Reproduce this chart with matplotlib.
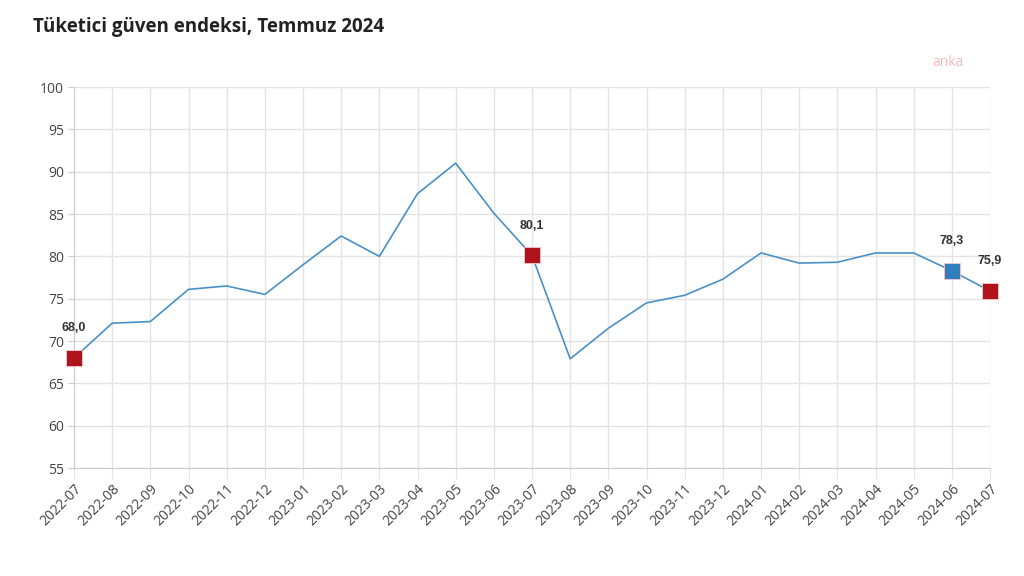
import matplotlib
matplotlib.use("Agg")
import matplotlib.pyplot as plt

plt.rcParams['font.family'] = ['Open Sans', 'DejaVu Sans']

months = ['2022-07', '2022-08', '2022-09', '2022-10', '2022-11', '2022-12',
          '2023-01', '2023-02', '2023-03', '2023-04', '2023-05', '2023-06',
          '2023-07', '2023-08', '2023-09', '2023-10', '2023-11', '2023-12',
          '2024-01', '2024-02', '2024-03', '2024-04', '2024-05', '2024-06',
          '2024-07']
values = [68.0, 72.1, 72.3, 76.1, 76.5, 75.5,
          79.0, 82.4, 80.0, 87.4, 91.0, 85.1,
          80.1, 67.9, 71.5, 74.5, 75.4, 77.3,
          80.4, 79.2, 79.3, 80.4, 80.4, 78.3,
          75.9]

# highlighted points: index -> colour
highlights = {0: '#b0141a', 12: '#b0141a', 23: '#2f7fbf', 24: '#b0141a'}

fig = plt.figure(figsize=(10.24, 5.76), dpi=100)
ax = fig.add_axes([74 / 1024, 1 - 468 / 576, 916 / 1024, 381 / 576])

x = list(range(len(months)))
ax.plot(x, values, color='#4a90c8', linewidth=1.2, zorder=3)

for i, c in highlights.items():
    ax.plot(x[i], values[i], marker='s', markersize=11, color=c,
            markeredgecolor='#f2c9cb', markeredgewidth=0.6, zorder=4, clip_on=False)
    ax.annotate(f'{values[i]:.1f}'.replace('.', ','), (x[i], values[i]),
                xytext=(0, 17), textcoords='offset points', ha='center',
                va='bottom', fontsize=9, fontweight='bold', color='#333333',
                family=['Liberation Sans', 'DejaVu Sans'])

ax.set_xlim(0, len(months) - 1)
ax.set_ylim(55, 100)
ax.set_yticks(range(55, 101, 5))
ax.set_xticks(x)
ax.set_xticklabels(months, rotation=45, ha='right', rotation_mode='anchor')

ax.grid(True, color='#e3e3e3', linewidth=1)
ax.set_axisbelow(True)
for s in ['top', 'right']:
    ax.spines[s].set_visible(False)
for s in ['left', 'bottom']:
    ax.spines[s].set_color('#cccccc')
ax.tick_params(axis='x', length=8, color='#e3e3e3', labelsize=10, labelcolor='#444444', pad=2)
ax.tick_params(axis='y', length=4, color='#cccccc', labelsize=10, labelcolor='#444444', pad=3)

fig.text(33 / 1024, 1 - 27 / 576, 'Tüketici güven endeksi, Temmuz 2024',
         fontsize=13.5, fontweight='bold', color='#222222', va='center')
fig.text(948 / 1024, 1 - 62 / 576, 'anka', fontsize=10, color='#f5b8bd',
         ha='center', va='center')

fig.savefig('out.png', dpi=100)
